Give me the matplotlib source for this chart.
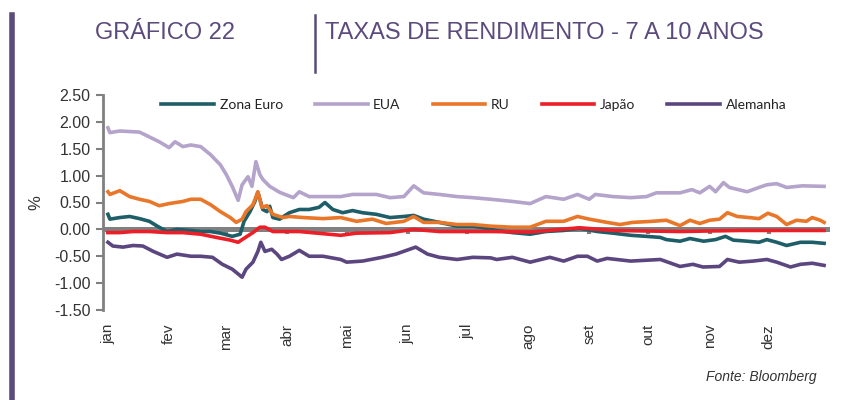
import matplotlib
matplotlib.use("Agg")
import matplotlib.pyplot as plt
import numpy as np

# day of year (2020) -> yield, %
ze_days = [0, 1, 6, 11, 16, 21, 25, 30, 35, 42, 47, 52, 57, 63, 67, 69, 72, 74.5, 76, 78.5, 80.6, 82, 83.6, 87, 90.7,
           92, 97, 102, 107, 110, 114, 119, 124, 129, 136, 143, 150, 155, 160, 168, 177, 185, 189, 197, 205, 214,
           222, 231, 239, 248, 256, 265, 273, 280, 283, 290, 295, 302, 308, 313, 317, 324, 330, 334, 339, 344, 351,
           357, 363]
ze_vals = [0.28, 0.19, 0.22, 0.24, 0.20, 0.15, 0.06, -0.04, 0.0, -0.02, -0.04, -0.04, -0.07, -0.13, -0.09, 0.15, 0.33,
           0.52, 0.69, 0.37, 0.33, 0.43, 0.22, 0.19, 0.28, 0.31, 0.37, 0.37, 0.41, 0.50, 0.37, 0.31, 0.35, 0.31, 0.28,
           0.22, 0.24, 0.26, 0.19, 0.13, 0.06, 0.06, 0.04, -0.02, -0.06, -0.09, -0.04, -0.02, 0.02, -0.04, -0.07,
           -0.11, -0.13, -0.15, -0.19, -0.22, -0.17, -0.22, -0.19, -0.13, -0.20, -0.22, -0.24, -0.19, -0.24, -0.30,
           -0.24, -0.24, -0.26]

eua_days = [0, 1, 6, 16, 21, 26, 31, 34, 38, 42, 47, 52, 57, 60, 63, 66, 68, 71, 73, 75, 77, 78.5, 82, 87, 94, 97,
            102, 109, 118, 124, 136, 143, 150, 155, 160, 168, 177, 185, 194, 205, 214, 222, 231, 238, 244, 247, 256,
            265, 273, 278, 290, 296, 300, 305, 308, 312, 315, 324, 330, 334, 339, 344, 352, 363]
eua_vals = [1.89, 1.80, 1.83, 1.81, 1.72, 1.63, 1.52, 1.63, 1.54, 1.57, 1.54, 1.39, 1.20, 1.02, 0.80, 0.54, 0.83,
            0.98, 0.80, 1.26, 1.02, 0.93, 0.80, 0.69, 0.59, 0.70, 0.61, 0.61, 0.61, 0.65, 0.65, 0.59, 0.61, 0.81,
            0.68, 0.65, 0.61, 0.59, 0.56, 0.52, 0.48, 0.61, 0.56, 0.65, 0.56, 0.65, 0.61, 0.59, 0.61, 0.68, 0.68,
            0.74, 0.68, 0.80, 0.70, 0.87, 0.78, 0.70, 0.78, 0.83, 0.85, 0.78, 0.81, 0.80]

ru_days = [0, 1, 6, 11, 16, 21, 26, 31, 38, 42, 47, 52, 57, 62, 65, 68, 70, 73.5, 76, 78, 80.6, 83.6, 88.7, 92, 99,
           109, 118, 126, 134, 141, 150, 155, 160, 168, 177, 185, 194, 205, 214, 222, 231, 238, 244, 253, 259.5,
           266, 276, 283, 290, 295, 300, 305, 310, 314, 319, 325, 330, 334.5, 339, 344, 349, 354, 357, 361, 363]
ru_vals = [0.70, 0.65, 0.72, 0.61, 0.56, 0.52, 0.44, 0.48, 0.52, 0.56, 0.56, 0.46, 0.33, 0.22, 0.13, 0.19, 0.33, 0.46,
           0.70, 0.41, 0.44, 0.28, 0.22, 0.24, 0.22, 0.20, 0.22, 0.15, 0.19, 0.11, 0.15, 0.24, 0.13, 0.13, 0.09, 0.09,
           0.06, 0.04, 0.04, 0.15, 0.15, 0.24, 0.19, 0.13, 0.09, 0.13, 0.15, 0.17, 0.07, 0.17, 0.11, 0.17, 0.19,
           0.31, 0.24, 0.22, 0.20, 0.30, 0.24, 0.09, 0.17, 0.15, 0.22, 0.17, 0.13]

jp_days = [0, 6, 12.7, 21, 30, 38, 47, 55, 62, 66, 68, 73.5, 77, 79.6, 83.6, 90.7, 97, 118, 126, 143, 155, 168, 194,
           214, 239, 256, 290, 320, 363]
jp_vals = [-0.06, -0.06, -0.04, -0.04, -0.06, -0.06, -0.09, -0.15, -0.20, -0.24, -0.19, -0.06, 0.04, 0.04, -0.04,
           -0.04, -0.04, -0.11, -0.07, -0.06, 0.0, -0.04, -0.04, -0.05, 0.03, -0.02, -0.04, -0.02, -0.02]

de_days = [0, 2.5, 7.6, 12.7, 17.7, 23, 30, 35, 42, 47, 53, 58, 63, 68, 70, 73.5, 76, 77.5, 79.6, 83, 85.7, 88, 92,
           97, 102, 109, 118, 121, 129, 139, 146, 156, 162, 168, 177, 185, 194, 197, 205, 214, 224, 231, 238, 243,
           248, 253, 265, 280, 290, 296.5, 301.6, 310, 314, 320, 327, 334, 339, 346, 351, 357, 363]
de_vals = [-0.24, -0.31, -0.33, -0.30, -0.31, -0.41, -0.52, -0.46, -0.50, -0.50, -0.52, -0.65, -0.74, -0.89, -0.74,
           -0.61, -0.41, -0.24, -0.41, -0.37, -0.46, -0.56, -0.50, -0.39, -0.50, -0.50, -0.56, -0.61, -0.59, -0.52,
           -0.46, -0.33, -0.46, -0.52, -0.56, -0.52, -0.53, -0.56, -0.52, -0.61, -0.52, -0.59, -0.50, -0.50, -0.59,
           -0.54, -0.59, -0.56, -0.69, -0.65, -0.70, -0.69, -0.56, -0.61, -0.59, -0.56, -0.61, -0.70, -0.65, -0.63,
           -0.67]

months = ["jan", "fev", "mar", "abr", "mai", "jun", "jul", "ago", "set", "out", "nov", "dez"]
month_start = [0, 31, 60, 91, 121, 152, 182, 213, 244, 274, 305, 335]

purple = "#5b4a7c"
series = [
    ("Zona Euro", ze_days, ze_vals, "#1e5e69"),
    ("EUA", eua_days, eua_vals, "#b4a3cb"),
    ("RU", ru_days, ru_vals, "#e8772a"),
    ("Japão", jp_days, jp_vals, "#ec1f28"),
    ("Alemanha", de_days, de_vals, "#5b4680"),
]

plt.rcParams['font.family'] = ['Liberation Sans', 'DejaVu Sans']

fig = plt.figure(figsize=(8.41, 4.0), dpi=100)
ax = fig.add_axes([103 / 841, 1 - 310 / 400, 727 / 841, 215 / 400])

# zero line + little month marks on it
ax.axhline(0, color="#808080", lw=3.6, zorder=1)
ax.vlines(month_start, -0.08, 0, color="#808080", lw=3, zorder=1)

for name, d, v, c in series:
    ax.plot(d, v, color=c, lw=2.6, label=name, zorder=3, solid_joinstyle="round")

ax.set_xlim(-2.5, 366)
ax.set_ylim(-1.5, 2.5)
ax.set_yticks(np.arange(-1.5, 2.51, 0.5))
ax.set_yticklabels([f"{t:.2f}" for t in np.arange(-1.5, 2.51, 0.5)])
ax.set_xticks(month_start)
ax.set_xticklabels(months, rotation=90, va="top")

for s in ["top", "right", "bottom"]:
    ax.spines[s].set_visible(False)
ax.spines["left"].set_color("#808080")
ax.spines["left"].set_linewidth(2)
ax.tick_params(axis="y", length=5, width=1.5, color="#808080", labelsize=11.5, labelcolor="#333333", pad=4)
ax.tick_params(axis="x", length=0, labelsize=11, labelcolor="#333333", pad=10)
ax.set_ylabel("%", fontsize=12, color="#333333", labelpad=8)

leg = ax.legend(loc="upper center", bbox_to_anchor=(0.51, 1.04), ncol=5, frameon=False,
                handlelength=3.8, columnspacing=2.3, handletextpad=0.4,
                prop={"family": ["Lato", "DejaVu Sans"], "size": 10})
for t in leg.get_texts():
    t.set_color("#222222")

# header
fig.add_artist(plt.Line2D([12 / 841, 12 / 841], [0, 1 - 15 / 400], color=purple, lw=4))
fig.add_artist(plt.Line2D([315 / 841, 315 / 841], [1 - 72 / 400, 1 - 15 / 400], color=purple, lw=1.8))
fig.text(165 / 841, 1 - 33 / 400, "GRÁFICO 22", fontsize=17, color=purple,
         ha="center", va="center")
fig.text(325 / 841, 1 - 33 / 400, "TAXAS DE RENDIMENTO - 7 A 10 ANOS", fontsize=17,
         color=purple, ha="left", va="center")
fig.text(817 / 841, 1 - 377 / 400, "Fonte: Bloomberg", fontsize=10, style="italic", color="#333333",
         ha="right", va="center")

fig.savefig("out.png", dpi=100)
